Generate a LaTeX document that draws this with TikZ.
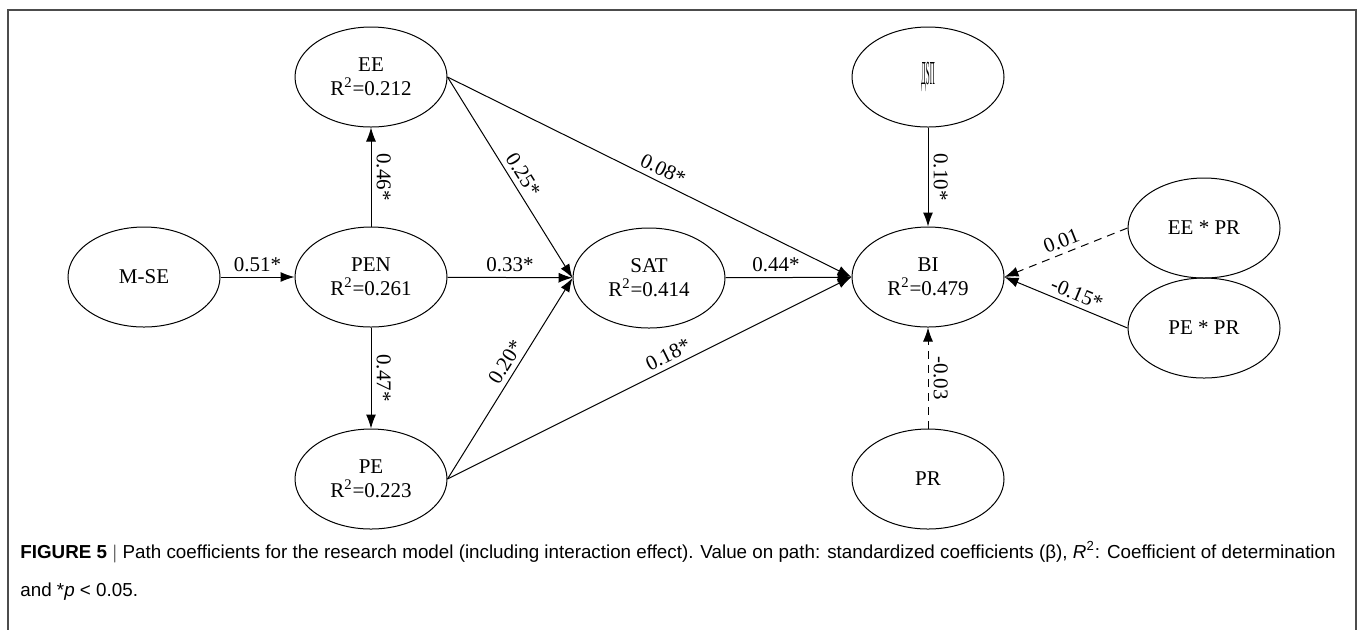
\documentclass[tikz,border=0pt]{standalone}
\usepackage{fontspec}
\setmainfont{Liberation Serif}
\newfontfamily\capfont{Liberation Sans}
\usetikzlibrary{shapes.geometric,arrows.meta}
\begin{document}
\begin{tikzpicture}[x=0.5pt,y=-0.5pt,
  var/.style={ellipse, draw, line width=0.5pt, minimum width=76pt, minimum height=50pt,
    inner sep=0pt, align=center, font=\fontsize{10.5}{12}\selectfont},
  arr/.style={draw, line width=0.5pt, -{Latex[length=7pt,width=5pt]}},
  nsarr/.style={arr, dash pattern=on 4pt off 3pt},
  lab/.style={font=\fontsize{10.5}{12}\selectfont, inner sep=2.5pt},
  vlab/.style={lab, rotate=-90, anchor=south},
  framebox/.style={draw=black!70, line width=0.7pt},
  captext/.style={anchor=base west, inner sep=0pt, font=\capfont\fontsize{9.4}{11}\selectfont}
]
\useasboundingbox (0,0) rectangle (1358,629);
\draw[framebox] (8,640) -- (8,10) -- (1356,10) -- (1356,640);

\node[var] (MSE) at (144,277) {M-SE};
\node[var] (PEN) at (371,277) {PEN\\R\textsuperscript{2}=0.261};
\node[var] (EE) at (371,77) {EE\\R\textsuperscript{2}=0.212};
\node[var] (PE) at (371,479) {PE\\R\textsuperscript{2}=0.223};
\node[var] (SAT) at (649,278) {SAT\\R\textsuperscript{2}=0.414};
\node[var] (BI) at (928,277) {BI\\R\textsuperscript{2}=0.479};
\node[var] (IBS) at (928,77) {\scalebox{0.33}[1.6]{ДЅП}};
\node[var] (PR) at (928,479) {PR};
\node[var] (EEPR) at (1204,228) {EE * PR};
\node[var] (PEPR) at (1204,328) {PE * PR};

\draw[arr] (MSE) -- (PEN) node[midway, above, lab] {0.51*};
\draw[arr] (PEN) -- (EE) node[midway, vlab] {0.46*};
\draw[arr] (PEN) -- (PE) node[midway, vlab] {0.47*};
\draw[arr] (PEN) -- (SAT) node[midway, above, lab] {0.33*};
\draw[arr] (EE.east) -- (SAT.west) node[pos=0.52, above, sloped, lab] {0.25*};
\draw[arr] (PE.east) -- (SAT.west) node[pos=0.55, above, sloped, lab] {0.20*};
\draw[arr] (EE.east) -- (BI.west) node[pos=0.52, above, sloped, lab] {0.08*};
\draw[arr] (PE.east) -- (BI.west) node[pos=0.56, above, sloped, lab] {0.18*};
\draw[arr] (SAT) -- (BI) node[pos=0.4, above, lab] {0.44*};
\draw[arr] (IBS) -- (BI) node[midway, vlab] {0.10*};
\draw[nsarr] (PR) -- (BI) node[midway, vlab] {-0.03};
\draw[nsarr] (EEPR.west) -- (BI.east) node[pos=0.5, above, sloped, lab] {0.01};
\draw[arr] (PEPR.west) -- (BI.east) node[pos=0.45, above, sloped, lab] {-0.15*};

\node[captext] (cap1) at (20,558) {\textbf{FIGURE 5} $|$ Path coefficients for the research model (including interaction effect). Value on path: standardized coefficients (β), \textit{R}\textsuperscript{2}: Coefficient of determination};
\node[captext] (cap2) at (20,596) {and *\textit{p} < 0.05.};
\end{tikzpicture}
\end{document}
